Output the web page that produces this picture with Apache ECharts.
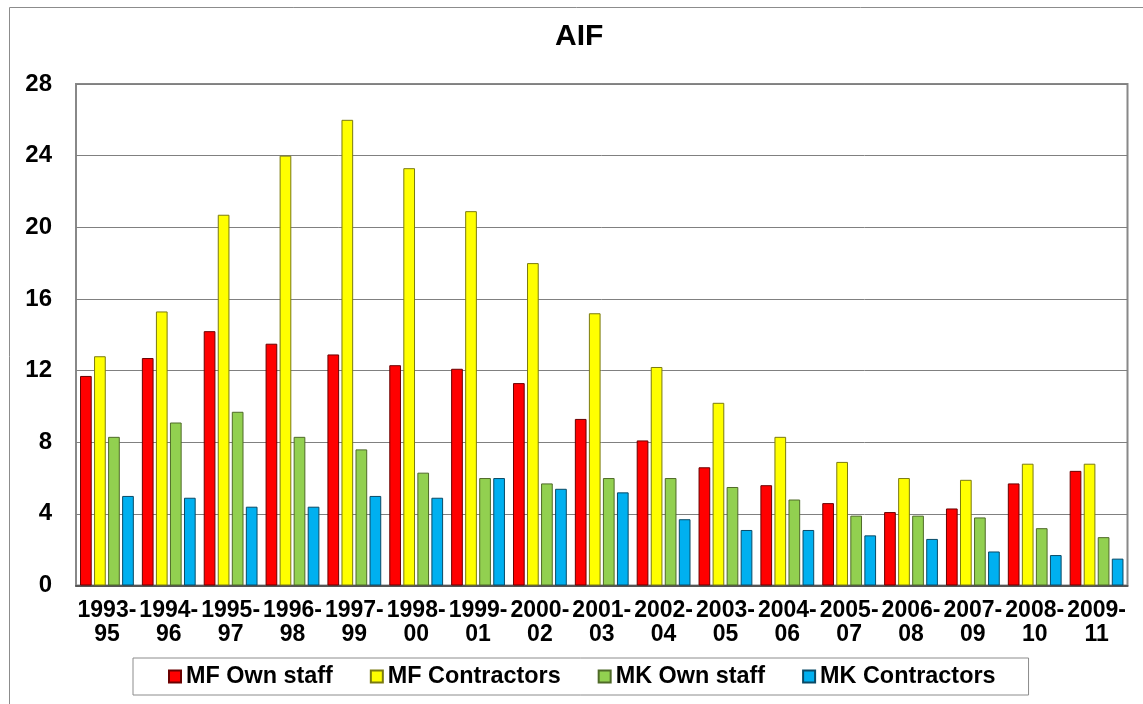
<!DOCTYPE html>
<html>
<head>
<meta charset="utf-8">
<script src="https://cdn.jsdelivr.net/npm/echarts@6/dist/echarts.min.js"></script>
<style>
html,body{margin:0;padding:0;background:#fff;}
#chart{width:1143px;height:704px;}
</style>
</head>
<body>
<div id="chart"></div>
<script>
var categories = ['1993-\n95','1994-\n96','1995-\n97','1996-\n98','1997-\n99','1998-\n00','1999-\n01','2000-\n02','2001-\n03','2002-\n04','2003-\n05','2004-\n06','2005-\n07','2006-\n08','2007-\n09','2008-\n10','2009-\n11'];
var mfOwnStaff    = [11.7, 12.7, 14.2, 13.5, 12.9, 12.3, 12.1, 11.3, 9.3, 8.1, 6.6, 5.6, 4.6, 4.1, 4.3, 5.7, 6.4];
var mfContractors = [12.8, 15.3, 20.7, 24.0, 26.0, 23.3, 20.9, 18.0, 15.2, 12.2, 10.2, 8.3, 6.9, 6.0, 5.9, 6.8, 6.8];
var mkOwnStaff    = [8.3, 9.1, 9.7, 8.3, 7.6, 6.3, 6.0, 5.7, 6.0, 6.0, 5.5, 4.8, 3.9, 3.9, 3.8, 3.2, 2.7];
var mkContractors = [5.0, 4.9, 4.4, 4.4, 5.0, 4.9, 6.0, 5.4, 5.2, 3.7, 3.1, 3.1, 2.8, 2.6, 1.9, 1.7, 1.5];
var seriesNames = ['MF Own staff', 'MF Contractors', 'MK Own staff', 'MK Contractors'];

var FONT = '"Liberation Sans", Arial, sans-serif';
var chart = echarts.init(document.getElementById('chart'));

function bar(name, data, color, border) {
  return {
    name: name, type: 'bar', data: data,
    barCategoryGap: '13%', barGap: '20%',
    itemStyle: { color: color, borderColor: border, borderWidth: 1 },
    emphasis: { disabled: true }
  };
}

chart.setOption({
  animation: false,
  backgroundColor: '#fff',
  graphic: [{
    type: 'rect', left: 7, top: 5,
    shape: { width: 1160, height: 720 },
    style: { fill: 'none', stroke: '#8c8c8c', lineWidth: 1 },
    silent: true, z: -1
  }],
  title: {
    text: 'AIF', left: 555, top: 22, padding: 0,
    textStyle: { fontFamily: FONT, fontWeight: 'bold', fontSize: 30, color: '#000' }
  },
  grid: {
    left: 76, right: 15.5, top: 84, bottom: 118.5,
    show: true, borderColor: '#888', borderWidth: 2, backgroundColor: 'transparent'
  },
  legend: {
    data: seriesNames,
    left: 133, top: 658,
    padding: [7, 33, 7, 35],
    itemGap: 37, itemWidth: 12, itemHeight: 12,
    icon: 'rect',
    borderColor: '#8c8c8c', borderWidth: 1,
    textStyle: { fontFamily: FONT, fontWeight: 'bold', fontSize: 23.4, color: '#000' }
  },
  xAxis: {
    type: 'category', data: categories,
    axisLine: { show: true, lineStyle: { color: '#555', width: 2 } },
    axisTick: { show: false },
    axisLabel: {
      interval: 0, margin: 13, lineHeight: 24,
      fontFamily: FONT, fontWeight: 'bold', fontSize: 23, color: '#000'
    }
  },
  yAxis: {
    type: 'value', min: 0, max: 28, interval: 4,
    axisLine: { show: false }, axisTick: { show: false },
    axisLabel: { margin: 24, fontFamily: FONT, fontWeight: 'bold', fontSize: 24, color: '#000' },
    splitLine: { show: true, lineStyle: { color: '#808080', width: 1 } }
  },
  series: [
    bar(seriesNames[0], mfOwnStaff, '#FF0000', '#6b0000'),
    bar(seriesNames[1], mfContractors, '#FFFF00', '#7a7a10'),
    bar(seriesNames[2], mkOwnStaff, '#92D050', '#4f6a28'),
    bar(seriesNames[3], mkContractors, '#00B0F0', '#0a4a66')
  ]
});
</script>
</body>
</html>
